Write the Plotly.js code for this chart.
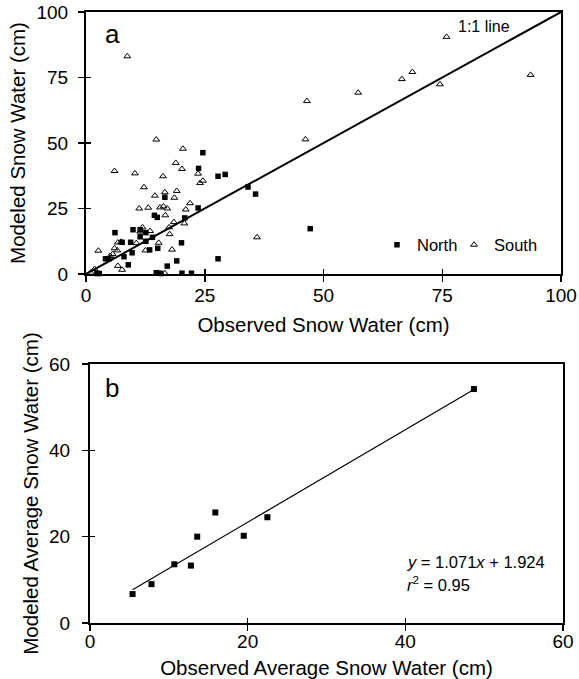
<!DOCTYPE html>
<html>
<head>
<meta charset="utf-8">
<script src="https://cdn.plot.ly/plotly-3.0.1.min.js"></script>
<style>
  html, body { margin: 0; padding: 0; background: #fff; }
  #chart { width: 579px; height: 679px; }
</style>
</head>
<body>
<div id="chart"></div>
<script>
// ---------- Panel a: observed vs modeled snow water (cm) ----------
const northObserved = [24.6, 23.7, 27.8, 29.3, 34.1, 35.7, 16.6, 23.6, 14.4, 15.0, 20.8, 9.9, 11.4, 12.6, 6.1, 11.4, 14.0, 12.6, 9.4, 7.6, 20.1, 15.1, 13.4, 9.7, 8.0, 4.1, 4.8, 8.9, 19.1, 17.1, 27.8, 47.2, 14.8, 15.3, 15.8, 2.3, 2.8, 20.2, 22.2];
const northModeled  = [46.3, 40.3, 37.3, 38.0, 33.2, 30.5, 29.3, 25.2, 22.4, 21.6, 21.4, 16.9, 16.9, 15.8, 15.8, 14.2, 14.0, 12.5, 12.1, 12.1, 11.9, 9.8, 9.2, 8.1, 6.6, 5.8, 5.8, 3.5, 5.0, 3.0, 5.8, 17.3, 0.5, 0.3, 0.2, 0.2, 0.2, 0.3, 0.3];

const southObserved = [8.7, 75.9, 93.6, 68.7, 66.5, 74.5, 57.3, 46.5, 46.2, 36.0, 14.8, 20.4, 18.9, 20.2, 6.0, 10.3, 16.2, 23.6, 24.0, 24.6, 12.2, 16.6, 19.1, 14.5, 18.6, 21.9, 11.2, 13.1, 15.6, 16.3, 17.1, 21.0, 16.7, 20.7, 18.5, 17.5, 17.6, 11.9, 13.5, 11.4, 10.6, 6.7, 7.4, 15.3, 18.1, 12.5, 2.6, 6.0, 6.6, 5.1, 5.6, 6.7, 7.6, 1.8, 16.6, 1.0];
const southModeled  = [83.1, 90.5, 76.0, 77.1, 74.4, 72.4, 69.2, 66.0, 51.4, 14.0, 51.3, 47.8, 42.4, 40.1, 39.3, 38.4, 37.3, 38.3, 34.7, 35.6, 33.1, 31.2, 31.7, 29.9, 29.1, 27.0, 25.0, 25.3, 25.4, 25.8, 25.0, 24.6, 22.4, 19.3, 19.8, 17.8, 15.2, 17.8, 16.4, 16.2, 11.8, 12.0, 12.3, 11.9, 9.3, 9.0, 8.9, 9.8, 9.0, 6.9, 7.6, 3.1, 1.6, 1.9, 0.3, 0.5];

const oneToOneX = [0, 100];
const oneToOneY = [0, 100];
const ticksA = [0, 25, 50, 75, 100];

// ---------- Panel b: observed vs modeled average snow water (cm) ----------
const avgObserved = [5.4, 7.8, 10.7, 12.8, 13.6, 15.9, 19.5, 22.5, 48.7];
const avgModeled  = [6.7, 9.0, 13.6, 13.3, 20.0, 25.6, 20.2, 24.5, 54.2];
const fitX = [5.4, 48.7];
const fitY = [7.7, 54.1];
const ticksB = [0, 20, 40, 60];

const FONT = 'Liberation Sans, Arial, Helvetica, sans-serif';
const INK = '#000';

const traces = [
  { type: 'scatter', mode: 'markers', name: 'North', x: northObserved, y: northModeled,
    xaxis: 'x', yaxis: 'y', cliponaxis: false, legend: 'legend',
    marker: { symbol: 'square', size: 5.5, color: INK, line: { width: 0 } } },
  { type: 'scatter', mode: 'markers', name: 'South', x: southObserved, y: southModeled,
    xaxis: 'x', yaxis: 'y', cliponaxis: false, legend: 'legend2',
    marker: { symbol: 'triangle-up-open', size: 6, color: INK, line: { width: 1, color: INK } } },
  { type: 'scatter', mode: 'lines', name: '1:1 line', x: oneToOneX, y: oneToOneY,
    xaxis: 'x', yaxis: 'y', showlegend: false, cliponaxis: false,
    line: { color: INK, width: 2 } },
  { type: 'scatter', mode: 'lines', name: 'fit', x: fitX, y: fitY,
    xaxis: 'x2', yaxis: 'y2', showlegend: false,
    line: { color: INK, width: 1.2 } },
  { type: 'scatter', mode: 'markers', name: 'Average', x: avgObserved, y: avgModeled,
    xaxis: 'x2', yaxis: 'y2', showlegend: false, cliponaxis: false,
    marker: { symbol: 'square', size: 6, color: INK } },
  // empty traces that only make the crossing-tick overlay axes exist
  { type: 'scatter', mode: 'markers', x: [], y: [], xaxis: 'x3', yaxis: 'y3', showlegend: false, hoverinfo: 'skip' },
  { type: 'scatter', mode: 'markers', x: [], y: [], xaxis: 'x4', yaxis: 'y4', showlegend: false, hoverinfo: 'skip' }
];

const W = 579, H = 679;
const baseAxis = {
  showgrid: false, zeroline: false, showline: true, mirror: true,
  linecolor: INK, linewidth: 2, ticks: 'outside', ticklen: 6, tickwidth: 1.5, tickcolor: INK,
  tickfont: { family: FONT, size: 19, color: INK }, fixedrange: true
};
const innerTicks = {
  showgrid: false, zeroline: false, showline: false, showticklabels: false,
  ticks: 'inside', ticklen: 5, tickwidth: 1.5, tickcolor: INK, fixedrange: true
};
const titleFont = { family: FONT, size: 20.5, color: INK };
const legendBase = {
  orientation: 'h', xanchor: 'left', y: 1 - 245 / H, yanchor: 'middle',
  bgcolor: 'rgba(0,0,0,0)', borderwidth: 0,
  font: { family: FONT, size: 16.5, color: INK }, itemwidth: 30
};

const layout = {
  width: W, height: H,
  margin: { l: 0, r: 0, t: 0, b: 0 },
  paper_bgcolor: '#fff', plot_bgcolor: '#fff',
  font: { family: FONT, color: INK },
  showlegend: true,
  legend: Object.assign({}, legendBase, { x: 377 / W }),
  legend2: Object.assign({}, legendBase, { x: 454 / W }),
  xaxis: Object.assign({}, baseAxis, {
    domain: [86 / W, 561 / W], range: [0, 100], anchor: 'y', tickvals: ticksA,
    ticklabelstandoff: -3,
    title: { text: 'Observed Snow Water (cm)', font: titleFont, standoff: 13 }
  }),
  yaxis: Object.assign({}, baseAxis, {
    domain: [1 - 274 / H, 1 - 12 / H], range: [0, 100], anchor: 'x', tickvals: ticksA,
    ticklabelstandoff: 6,
    title: { text: 'Modeled Snow Water (cm)', font: titleFont, standoff: 5 }
  }),
  xaxis2: Object.assign({}, baseAxis, {
    domain: [90 / W, 563 / W], range: [0, 60], anchor: 'y2', tickvals: ticksB,
    ticklabelstandoff: -6,
    title: { text: 'Observed Average Snow Water (cm)', font: titleFont, standoff: 16 }
  }),
  yaxis2: Object.assign({}, baseAxis, {
    domain: [1 - 623 / H, 1 - 364 / H], range: [0, 60], anchor: 'x2', tickvals: ticksB,
    ticklabelstandoff: 8,
    title: { text: 'Modeled Average Snow Water (cm)', font: titleFont, standoff: 5 }
  }),
  xaxis3: Object.assign({}, innerTicks, { overlaying: 'x', anchor: 'y', range: [0, 100], tickvals: ticksA }),
  yaxis3: Object.assign({}, innerTicks, { overlaying: 'y', anchor: 'x', range: [0, 100], tickvals: ticksA }),
  xaxis4: Object.assign({}, innerTicks, { overlaying: 'x2', anchor: 'y2', range: [0, 60], tickvals: ticksB }),
  yaxis4: Object.assign({}, innerTicks, { overlaying: 'y2', anchor: 'x2', range: [0, 60], tickvals: ticksB }),
  annotations: [
    { xref: 'x', yref: 'y', x: 3.6, y: 91.5, xanchor: 'left', yanchor: 'middle', showarrow: false,
      text: 'a', font: { family: FONT, size: 26, color: INK } },
    { xref: 'x', yref: 'y', x: 83.7, y: 94.3, xanchor: 'center', yanchor: 'middle', showarrow: false,
      text: '1:1 line', font: { family: FONT, size: 16, color: INK } },
    { xref: 'x2', yref: 'y2', x: 1.65, y: 54.4, xanchor: 'left', yanchor: 'middle', showarrow: false,
      text: 'b', font: { family: FONT, size: 26, color: INK } },
    { xref: 'x2', yref: 'y2', x: 40.0, y: 14.2, xanchor: 'left', yanchor: 'middle', showarrow: false,
      text: '<i>y</i> = 1.071<i>x</i> + 1.924', font: { family: FONT, size: 16.5, color: INK } },
    { xref: 'x2', yref: 'y2', x: 40.0, y: 9.0, xanchor: 'left', yanchor: 'middle', showarrow: false,
      text: '<i>r</i><sup>2</sup> = 0.95', font: { family: FONT, size: 16.5, color: INK } }
  ]
};

Plotly.newPlot('chart', traces, layout, { displayModeBar: false, staticPlot: true });
</script>
</body>
</html>
